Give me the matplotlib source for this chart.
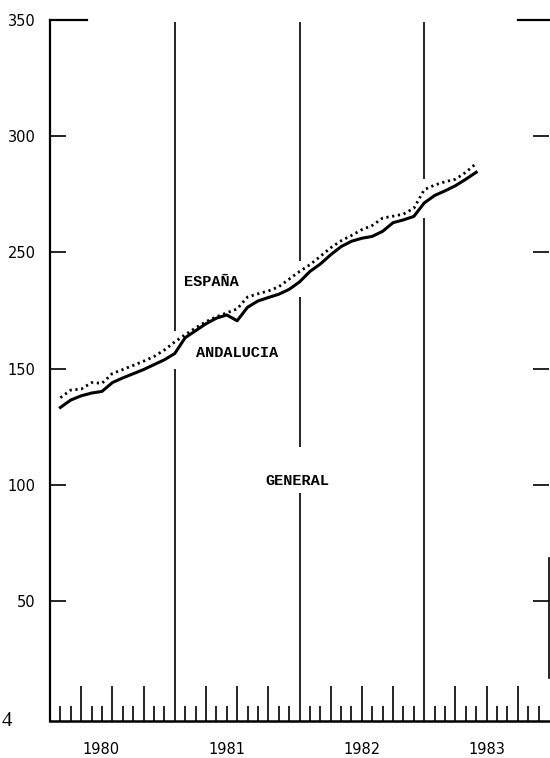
import numpy as np
import matplotlib.pyplot as plt
from matplotlib.transforms import blended_transform_factory

# Datos mensuales (enero 1980 = mes 1)
meses = np.arange(1, 42)
andalucia = [183.3, 186.5, 188.3, 189.5, 190.2, 194.0, 196.0, 197.8, 199.6, 201.7,
             203.8, 206.5, 213.3, 216.3, 219.3, 221.7, 223.1, 220.6, 226.4, 229.1,
             230.6, 232.0, 234.1, 237.3, 241.8, 245.0, 249.0, 252.5, 254.8, 256.1,
             256.9, 259.1, 262.8, 264.0, 265.5, 271.3, 274.5, 276.5, 278.7, 281.5,
             284.5]
espana = [187.5, 190.8, 191.2, 194.0, 193.7, 197.9, 199.6, 201.4, 203.2, 205.2,
          208.0, 211.5, 214.6, 217.5, 220.2, 222.3, 224.0, 225.7, 230.8, 232.2,
          233.4, 235.2, 238.5, 241.8, 244.7, 248.3, 252.0, 255.0, 257.3, 259.8,
          261.6, 264.8, 265.6, 266.5, 269.0, 277.0, 279.0, 280.4, 281.5, 284.5,
          288.3]

anios = ['1980', '1981', '1982', '1983']
ytick_pos = [100, 150, 200, 250, 300, 350]
ytick_labels = ['50', '100', '150', '250', '300', '350']

y_min, y_max = 48.4, 350
n_meses = 48

fig = plt.figure(figsize=(5.5, 7.58), dpi=100)
ax = fig.add_axes([50 / 550, 37 / 758, 499 / 550, 701 / 758])

# Curvas
ax.plot(meses, andalucia, color='black', lw=2.2, solid_joinstyle='round')
ax.plot(meses, espana, color='black', lw=2.0, linestyle=(0, (0.8, 1.3)))

# Textos
mono = 'Liberation Mono'
x_general, y_general = 23.75, 151.8
ax.text(15.5, 237.3, 'ESPAÑA', family=mono, fontsize=11, fontweight='bold',
        ha='center', va='center')
ax.text(17.95, 206.8, 'ANDALUCIA', family=mono, fontsize=11, fontweight='bold',
        ha='center', va='center')
ax.text(x_general, y_general, 'GENERAL', family=mono, fontsize=11, fontweight='bold',
        ha='center', va='center')

# Lineas de separacion de anios, cortadas donde pasan las curvas
for b in [12, 24, 36]:
    a = andalucia[b - 1]
    e = espana[b - 1]
    tramos = [(y_min, a - 6.5), (e + 4.5, 349)]
    if b == 24:
        tramos = [(y_min, y_general - 5.5), (y_general + 14.5, a - 6.5), (e + 4.5, 349)]
    for lo, hi in tramos:
        ax.vlines(b, lo, hi, color='black', lw=1.2)

ax.set_xlim(0, n_meses)
ax.set_ylim(y_min, y_max)

# Marcas mensuales
trimestres = [m for m in range(1, n_meses) if m % 3 == 0 and m % 12 != 0]
resto = [m for m in range(1, n_meses) if m % 3 != 0]
ax.set_xticks(trimestres)
ax.set_xticks(resto, minor=True)
ax.tick_params(axis='x', which='major', direction='in', length=25, width=1.2,
               labelbottom=False)
ax.tick_params(axis='x', which='minor', direction='in', length=10.8, width=1.2)

ax.set_yticks(ytick_pos)
ax.set_yticklabels(ytick_labels)
ax.tick_params(axis='y', direction='in', length=11.5, width=1.2, left=True,
               right=True, pad=10.5, labelsize=10.5)

# Etiquetas de anios
trans = blended_transform_factory(ax.transData, ax.transAxes)
for pos, lab in zip([4.9, 17.0, 30.0, 42.0], anios):
    ax.text(pos, -0.04, lab, transform=trans, ha='center', va='center',
            fontsize=10.5)

ax.spines['top'].set_visible(False)
ax.spines['right'].set_visible(False)
ax.spines['left'].set_linewidth(1.6)
ax.spines['bottom'].set_linewidth(1.8)

# Marca superior y trozo del borde derecho
ax.axhline(350, xmin=0, xmax=37 / 499, color='black', lw=1.6, clip_on=False)
ax.axhline(350, xmin=1 - 31 / 499, xmax=1, color='black', lw=1.6, clip_on=False)
ax.axvline(n_meses, ymin=0.061, ymax=0.2325, color='black', lw=1.2, clip_on=False)

fig.text(7 / 550, 1 - 722 / 758, '4', family='Liberation Serif', fontsize=15,
         ha='center', va='center')

plt.savefig('out.png', dpi=100)
